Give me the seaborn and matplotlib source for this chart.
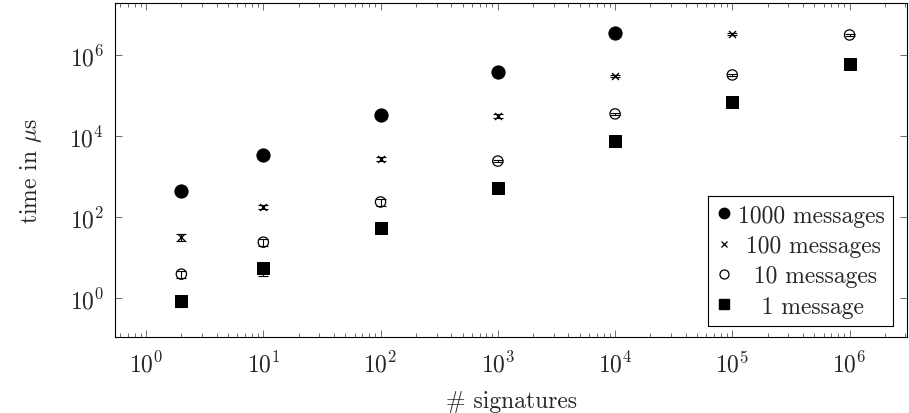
import matplotlib.pyplot as plt
import matplotlib.ticker as ticker
from matplotlib.lines import Line2D
import pandas as pd
import seaborn as sns

# number of signatures per measurement
sigs_1000 = [2, 10, 100, 1000, 10000]
sigs_100 = [2, 10, 100, 1000, 10000, 100000]
sigs_10 = [2, 10, 100, 1000, 10000, 100000, 1000000]
sigs_1 = [2, 10, 100, 1000, 10000, 100000, 1000000]

# time in microseconds (mean) and error
time_1000 = [440, 3400, 33000, 380000, 3.5e6]
err_1000 = [20, 150, 1500, 15000, 1.5e5]
time_100 = [32, 178, 2700, 31000, 300000, 3.3e6]
err_100 = [6, 20, 250, 4000, 15000, 1.5e5]
time_10 = [3.9, 24, 235, 2400, 35000, 320000, 3.1e6]
err_10 = [0.8, 5, 50, 120, 1500, 15000, 1.5e5]
time_1 = [0.85, 5.5, 54, 520, 7500, 69000, 600000]
err_1 = [0.25, 2.0, 5, 40, 500, 5000, 40000]

labels = ["1000 messages", " 100 messages", "  10 messages", "   1 message"]
x_major = [1, 10, 100, 1000, 10000, 100000, 1000000]
y_major = [1, 1e2, 1e4, 1e6]

sns.set_style("ticks")
plt.rcParams['font.family'] = 'serif'
plt.rcParams['font.serif'] = ['cmr10', 'DejaVu Serif']
plt.rcParams['mathtext.fontset'] = 'cm'
plt.rcParams['axes.formatter.use_mathtext'] = True
plt.rcParams['font.size'] = 17

fig = plt.figure(figsize=(9.09, 4.14), dpi=100)
ax = fig.add_axes([115/909, 1-338/414, (907-115)/909, (338-4)/414])

series = [
    (sigs_1000, time_1000, err_1000, dict(marker='o', s=90, color='black', edgecolor='black')),
    (sigs_100, time_100, err_100, dict(marker='x', s=25, color='black', linewidth=1.0)),
    (sigs_10, time_10, err_10, dict(marker='o', s=55, facecolor='none', edgecolor='black', linewidth=0.9)),
    (sigs_1, time_1, err_1, dict(marker='s', s=80, color='black', edgecolor='black')),
]

for (x, y, e, kw), lab in zip(series, labels):
    df = pd.DataFrame({'signatures': x, 'time': y})
    ax.errorbar(x, y, yerr=e, fmt='none', ecolor='black', elinewidth=0.8, capsize=3.5, capthick=0.8, zorder=2)
    sns.scatterplot(data=df, x='signatures', y='time', ax=ax, legend=False, zorder=3, **kw)

ax.set_xscale('log')
ax.set_yscale('log')
ax.set_xlim(10**-0.265, 10**6.49)
ax.set_ylim(10**-0.96, 10**7.28)

ax.xaxis.set_major_locator(ticker.FixedLocator(x_major))
ax.xaxis.set_major_formatter(ticker.LogFormatterSciNotation())
x_minor = [m * d for d in [0.1] + x_major for m in range(2, 10)]
x_minor = [v for v in x_minor if 10**-0.265 < v < 10**6.49]
ax.xaxis.set_minor_locator(ticker.FixedLocator(x_minor))
ax.xaxis.set_minor_formatter(ticker.NullFormatter())
ax.yaxis.set_major_locator(ticker.FixedLocator(y_major))
ax.yaxis.set_major_formatter(ticker.LogFormatterSciNotation())
ax.yaxis.set_minor_locator(ticker.NullLocator())

ax.tick_params(which='major', direction='in', length=5, width=0.6, color='#555555',
               top=True, right=True, labelsize=17)
ax.tick_params(axis='x', which='major', pad=10)
ax.tick_params(axis='y', which='major', pad=8)
ax.tick_params(which='minor', direction='in', length=3, width=0.6, color='#555555',
               top=True, right=True)
for sp in ax.spines.values():
    sp.set_linewidth(0.8)
    sp.set_color('black')

ax.set_xlabel('# signatures', fontsize=17, labelpad=10)
ax.set_ylabel(r'time in $\mu$s', fontsize=17, labelpad=18)

handles = [
    Line2D([], [], linestyle='none', marker='o', markersize=7.5, color='black'),
    Line2D([], [], linestyle='none', marker='x', markersize=4.5, color='black', markeredgewidth=0.9),
    Line2D([], [], linestyle='none', marker='o', markersize=6.5, markerfacecolor='none',
           markeredgecolor='black', markeredgewidth=0.9),
    Line2D([], [], linestyle='none', marker='s', markersize=7, color='black'),
]
leg = ax.legend(handles, labels, loc='lower right', bbox_to_anchor=(1 - 14/792, 11/334),
                frameon=True, fancybox=False, framealpha=1, edgecolor='black',
                fontsize=17, handlelength=0.6, handletextpad=0.3, borderpad=0.35,
                labelspacing=0.35, borderaxespad=0)
leg.get_frame().set_linewidth(0.8)

fig.savefig('out.png', dpi=100)
